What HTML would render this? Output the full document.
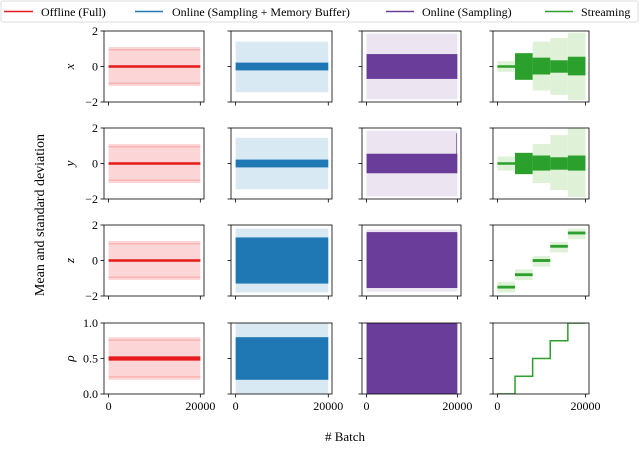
<!DOCTYPE html>
<html><head><meta charset="utf-8"><style>
body{margin:0;background:#fff;}
svg{display:block;font-family:"Liberation Serif",serif;}
</style></head><body>
<svg id="c" width="640" height="449" viewBox="0 0 640 449">
<g>
<rect x="1" y="1" width="637" height="21" fill="#fff" stroke="#ddd" stroke-width="1" rx="2"/>
<g><line x1="4" y1="11.5" x2="33" y2="11.5" stroke="#e41a1c" stroke-width="1.5"/><text x="41" y="16" font-size="12">Offline (Full)</text></g>
<g><line x1="135" y1="11.5" x2="163" y2="11.5" stroke="#1f77b4" stroke-width="1.5"/><text x="172" y="16" font-size="12">Online (Sampling + Memory Buffer)</text></g>
<g><line x1="386" y1="11.5" x2="414" y2="11.5" stroke="#6a3d9a" stroke-width="1.5"/><text x="422" y="16" font-size="12">Online (Sampling)</text></g>
<g><line x1="545" y1="11.5" x2="573" y2="11.5" stroke="#2ca02c" stroke-width="1.5"/><text x="581" y="16" font-size="12">Streaming</text></g>
</g>
<text x="44" y="215" font-size="14" text-anchor="middle" transform="rotate(-90 44 215)">Mean and standard deviation</text>
<text x="345" y="441" font-size="13" text-anchor="middle"># Batch</text>
<g id="panels"></g>
</svg>
<script>
// Categories
const rowVars = ["x","y","z","ρ"];
const methods = ["offline","online-smb","online-sampling","streaming"];
const xTicks = [0, 20000];
const yTicksStd = [-2, 0, 2];
const yTickLabelsStd = ["−2", "0", "2"];
const yTicksRho = [0, 0.5, 1.0];
const yTickLabelsRho = ["0.0", "0.5", "1.0"];
// segments: [xStart, xEnd, stdLo, stdHi, meanLo, meanHi]
const xOffline = [[0,20000,-1.1,1.1,-0.07,0.07]];
const xOnlineSMB = [[0,20000,-1.45,1.4,-0.22,0.22]];
const xOnlineS = [[0,20000,-1.85,1.85,-0.7,0.7]];
const xStream = [[0,4000,-0.3,0.3,-0.05,0.05],[4000,8000,-0.75,0.75,-0.75,0.75],[8000,12000,-1.35,1.4,-0.45,0.5],[12000,16000,-1.6,1.6,-0.35,0.35],[16000,20000,-1.9,1.9,-0.5,0.55]];
const yOffline = [[0,20000,-1.1,1.1,-0.07,0.07]];
const yOnlineSMB = [[0,20000,-1.45,1.45,-0.22,0.22]];
const yOnlineS = [[0,20000,-1.85,1.85,-0.55,0.55],[19700,19850,-0.55,1.7,-0.55,1.7]];
const yStream = [[0,4000,-0.4,0.4,-0.05,0.05],[4000,8000,-0.6,0.6,-0.6,0.6],[8000,12000,-1.1,1.1,-0.4,0.45],[12000,16000,-1.5,1.6,-0.35,0.35],[16000,20000,-1.9,2.0,-0.4,0.45]];
const zOffline = [[0,20000,-1.1,1.1,-0.07,0.07]];
const zOnlineSMB = [[0,20000,-1.8,1.8,-1.3,1.3]];
const zOnlineS = [[0,20000,-1.75,1.75,-1.55,1.6]];
const zStream = [[0,4000,-1.8,-1.2,-1.58,-1.42],[4000,8000,-1.1,-0.5,-0.88,-0.72],[8000,12000,-0.35,0.25,-0.08,0.08],[12000,16000,0.45,1.05,0.72,0.88],[16000,20000,1.2,1.8,1.47,1.63]];
const rhoOffline = [[0,20000,0.2,0.8,0.47,0.53]];
const rhoOnlineSMB = [[0,20000,0,1,0.2,0.8]];
const rhoOnlineS = [[0,20000,0,1,0,1]];
const rhoStreamSteps = [0, 4000, 8000, 12000, 16000, 20000];
const rhoStreamVals = [0, 0.25, 0.5, 0.75, 1.0, 1.0];

const panelData = [
 [xOffline,xOnlineSMB,xOnlineS,xStream],
 [yOffline,yOnlineSMB,yOnlineS,yStream],
 [zOffline,zOnlineSMB,zOnlineS,zStream],
 [rhoOffline,rhoOnlineSMB,rhoOnlineS,null]
];
const colLeft=[104,231,362,493], colW=[100,101,99,96];
const rowTop=[31,128,225,323], rowH=71;
const dark=["#e41a1c","#1f77b4","#6a3d9a","#2ca02c"];
const light=["#fcd6d6","#d8e9f4","#ece4f1","#dff2d8"];
const NS="http://www.w3.org/2000/svg";
const root=document.getElementById("panels");
function mk(tag,attrs,parent){const e=document.createElementNS(NS,tag);for(const k in attrs)e.setAttribute(k,attrs[k]);parent.appendChild(e);return e;}
for(let r=0;r<4;r++){
 for(let c=0;c<4;c++){
  const L=colLeft[c],W=colW[c],T=rowTop[r];
  const ymin=r===3?0:-2, ymax=r===3?1:2;
  const sx=v=>L+W*(v+1000)/21800;
  const sy=v=>T+rowH*(ymax-v)/(ymax-ymin);
  const g=mk("g",{},root);
  
  
  const clip="clip"+r+c;
  const cp=mk("clipPath",{id:clip},g);mk("rect",{x:L,y:T,width:W,height:rowH},cp);
  const dg=mk("g",{"clip-path":"url(#"+clip+")"},g);
  const segs=panelData[r][c];
  if(segs){
   segs.forEach(s=>{
    const b=mk("rect",{x:sx(s[0]),y:sy(s[3]),width:sx(s[1])-sx(s[0]),height:sy(s[2])-sy(s[3]),fill:light[c]},dg);
    
    
   });
   if(c===0){segs.forEach(s=>{
    const m=(s[2]+s[3])/2,h=(s[3]-s[2])*0.43;
    [m-h,m+h].forEach(v=>mk("line",{x1:sx(s[0]),x2:sx(s[1]),y1:sy(v),y2:sy(v),stroke:"#f8b4b4","stroke-width":1.5},dg));
   });}
   segs.forEach(s=>{
    const hgt=Math.max(sy(s[4])-sy(s[5]),2.5);
    const ymid=(sy(s[4])+sy(s[5]))/2;
    const m=mk("rect",{x:sx(s[0]),y:ymid-hgt/2,width:sx(s[1])-sx(s[0]),height:hgt,fill:dark[c]},dg);
    
    
   });
  } else {
   let d="";
   for(let i=0;i<rhoStreamSteps.length-1;i++){
    d+=(i?"L":"M")+sx(rhoStreamSteps[i])+" "+sy(rhoStreamVals[i])+"L"+sx(rhoStreamSteps[i+1])+" "+sy(rhoStreamVals[i]);
   }
   const p=mk("path",{d:d,fill:"none",stroke:dark[3],"stroke-width":1.5},dg);
   
   
  }
  const fr=mk("rect",{x:L,y:T,width:W,height:rowH,fill:"none",stroke:"#000","stroke-width":0.8},g);
  
  
  const yt=r===3?yTicksRho:yTicksStd, yl=r===3?yTickLabelsRho:yTickLabelsStd;
  yt.forEach((v,i)=>{
   mk("line",{x1:L-3.5,x2:L,y1:sy(v),y2:sy(v),stroke:"#000","stroke-width":0.8},g);
   if(c===0){const t=mk("text",{x:L-6,y:sy(v)+4,"font-size":12,"text-anchor":"end"},g);t.textContent=yl[i];
    
    }
  });
  xTicks.forEach(v=>{
   mk("line",{x1:sx(v),x2:sx(v),y1:T+rowH,y2:T+rowH+3.5,stroke:"#000","stroke-width":0.8},g);
   if(r===3){const t=mk("text",{x:sx(v),y:T+rowH+16,"font-size":12,"text-anchor":"middle"},g);t.textContent=String(v);
    
    }
  });
  if(c===0){
   const t=mk("text",{x:70,y:T+rowH/2+4,"font-size":13,"font-style":"italic","text-anchor":"middle",transform:"rotate(-90 70 "+(T+rowH/2)+")"},g);
   t.textContent=rowVars[r];
   
   
  }
 }
}
</script>
</body></html>
